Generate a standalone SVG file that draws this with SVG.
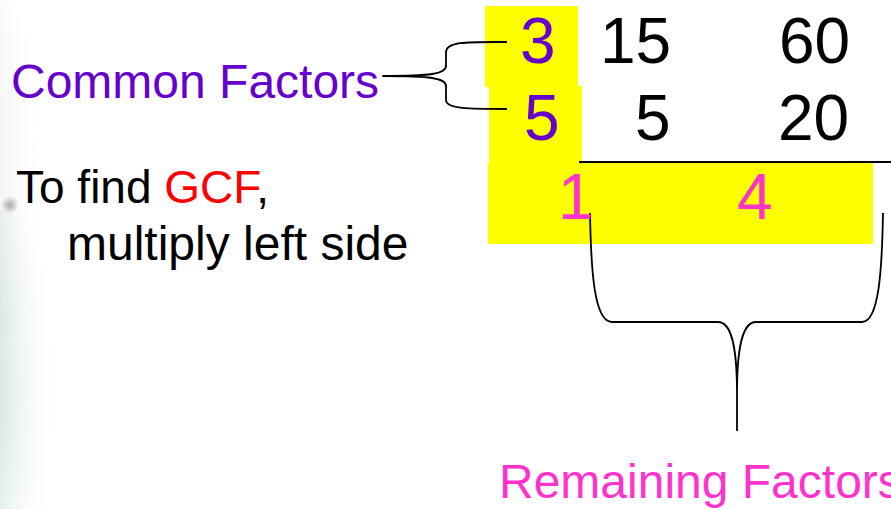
<svg xmlns="http://www.w3.org/2000/svg" width="891" height="509" viewBox="0 0 891 509">
<style>
text{font-family:"Liberation Sans",Arial,sans-serif}
.num{font-size:64px}
.lbl{font-size:48px}
.pur{fill:#6600CC}
.blk{fill:#000}
.pink{fill:#FF33CC}
.red{fill:#FF0000}
.hl{fill:#FFFF00}
.ln{fill:none;stroke:#000;stroke-width:1.8;stroke-linejoin:round}
</style>
<defs>
<radialGradient id="gGreen" cx="0" cy="0.5" r="1" gradientUnits="objectBoundingBox">
<stop offset="0" stop-color="#3f8f6a" stop-opacity="0.7"/>
<stop offset="0.45" stop-color="#78b496" stop-opacity="0.35"/>
<stop offset="1" stop-color="#ffffff" stop-opacity="0"/>
</radialGradient>
<radialGradient id="gGrey" cx="0" cy="0.5" r="1" gradientUnits="objectBoundingBox">
<stop offset="0" stop-color="#8a8a8a" stop-opacity="0.4"/>
<stop offset="1" stop-color="#ffffff" stop-opacity="0"/>
</radialGradient>
<radialGradient id="gDot">
<stop offset="0" stop-color="#888" stop-opacity="0.7"/>
<stop offset="1" stop-color="#888" stop-opacity="0"/>
</radialGradient>
</defs>
<rect width="891" height="509" fill="#fff"/>
<g id="texture">
<ellipse cx="0" cy="170" rx="45" ry="170" fill="url(#gGrey)"/>
<ellipse cx="0" cy="390" rx="60" ry="180" fill="url(#gGreen)"/>
<circle cx="10" cy="205" r="9" fill="url(#gDot)"/>
</g>
<g id="highlights">
<rect class="hl" x="485" y="6" width="93" height="81"/>
<rect class="hl" x="489" y="86" width="93" height="78"/>
<rect class="hl" x="488" y="163" width="385" height="81"/>
</g>
<g id="connectors">
<path class="ln" d="M507,42 C470,42 446,41 446,52 L446,66 C446,74 430,76 383,76 C430,76 446,78 446,86 L446,100 C446,109 470,109 507,109"/>
<line class="ln" x1="579" y1="162" x2="891" y2="162"/>
<path class="ln" d="M590,213 C591,270 594,322 612,322 L718,322 C731,322 737,345 737,393 L737,431 M737,393 C737,345 743,322 756,322 L862,322 C879,322 882,270 883,213"/>
</g>
<g id="common-factors"><text class="lbl pur" x="11" y="98">Common Factors</text></g>
<g id="gcf-note">
<text x="16" y="203" style="font-size:46px"><tspan class="blk">To find </tspan><tspan class="red">GCF</tspan><tspan class="blk">,</tspan></text>
<text class="lbl blk" x="67" y="260">multiply left side</text>
</g>
<g id="row1">
<text class="num pur" x="520" y="63">3</text>
<text class="num blk" x="600" y="63">15</text>
<text class="num blk" x="779" y="63">60</text>
</g>
<g id="row2">
<text class="num pur" x="524" y="140">5</text>
<text class="num blk" x="635" y="140">5</text>
<text class="num blk" x="778" y="140">20</text>
</g>
<g id="row3">
<text class="num pink" x="558" y="219">1</text>
<text class="num pink" x="737" y="219">4</text>
</g>
<g id="remaining-factors"><text class="lbl pink" x="499" y="498">Remaining Factors</text></g>
</svg>
